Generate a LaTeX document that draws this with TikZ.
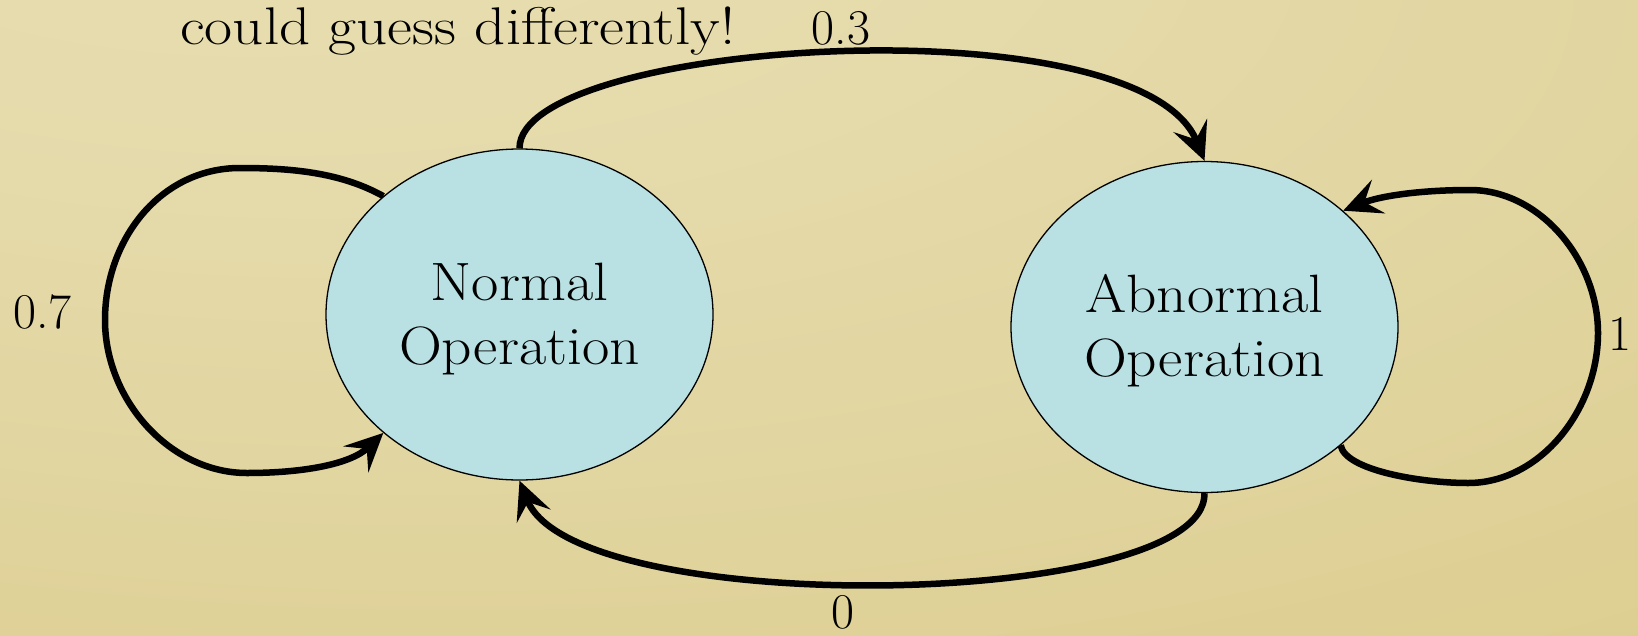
\documentclass[tikz,border=0pt]{standalone}
\usetikzlibrary{arrows.meta,shapes.geometric}
\definecolor{bgA}{HTML}{E8DEB2}
\definecolor{bgB}{HTML}{E1D5A0}
\definecolor{bgC}{HTML}{DBCA87}
\definecolor{stfill}{HTML}{B9E0E3}
\pgfdeclareradialshading{bgshade}{\pgfpoint{-20bp}{40bp}}{color(0bp)=(bgA); color(20bp)=(bgA!60!bgB); color(38bp)=(bgB); color(65bp)=(bgC); color(100bp)=(bgC)}
\newcommand{\widetxt}[1]{\scalebox{1.1}[1]{#1}}
\begin{document}
\begin{tikzpicture}[x=1pt,y=-1pt,
  state/.style={ellipse, draw=black, line width=1.3pt, fill=stfill,
    minimum width=387pt, minimum height=331pt, inner sep=0pt, align=center,
    font=\fontsize{54}{64}\selectfont},
  lbl/.style={font=\fontsize{50}{60}\selectfont, anchor=base, inner sep=0pt},
  conn/.style={line width=6.5pt, -{Stealth[length=38pt,width=36pt,inset=15pt]}}
]
\useasboundingbox (0,0) rectangle (1638,635);
\shade[shading=bgshade] (0,0) rectangle (1638,635);

\node[state] (N) at (519.5,314.5) {\rule{0pt}{47pt}\widetxt{Normal}\\\widetxt{Operation}};
\node[state] (A) at (1204.5,327) {\rule{0pt}{46pt}\widetxt{Abnormal}\\\widetxt{Operation}};

\draw[conn] (N.north) .. controls (519,40) and (1140,0) .. (A.north);
\draw[conn] (A.south) .. controls (1207,610) and (575,620) .. (N.south);
\draw[conn] (N.139) .. controls (340,172) and (290,168) .. (240,168)
   .. controls (160,168) and (105,240) .. (105,320)
   .. controls (105,400) and (170,473) .. (247,473)
   .. controls (300,473) and (350,465) .. (N.221);
\draw[conn] (A.319) .. controls (1345,470) and (1420,483) .. (1468,483)
   .. controls (1540,483) and (1598,410) .. (1598,333)
   .. controls (1598,260) and (1540,190) .. (1470,190)
   .. controls (1420,190) and (1380,196) .. (A.40);

\node[lbl, font=\fontsize{53}{60}\selectfont, anchor=base west] (guess) at (180,44) {\scalebox{1.15}[1]{could guess differently!}};
\node[lbl] (p03) at (841,44) {0.3};
\node[lbl] (p07) at (42.5,328) {0.7};
\node[lbl] (p1) at (1620,350) {1};
\node[lbl] (p0) at (843,628) {0};
\end{tikzpicture}
\end{document}
